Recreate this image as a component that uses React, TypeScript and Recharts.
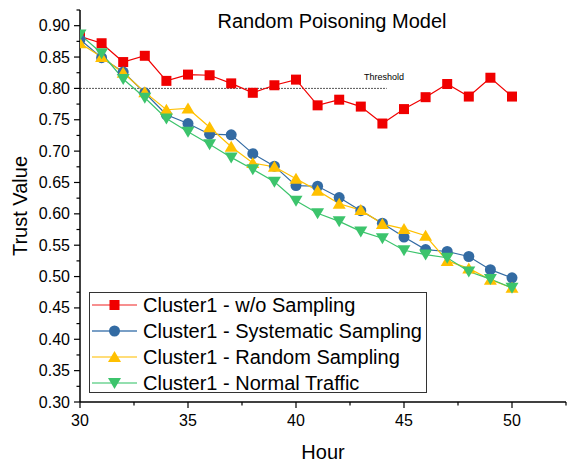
import { Label, Legend, Line, LineChart, ReferenceLine, XAxis, YAxis } from "recharts";

const FONT = "'Liberation Sans', Arial, sans-serif";

const hours = [30, 31, 32, 33, 34, 35, 36, 37, 38, 39, 40, 41, 42, 43, 44, 45, 46, 47, 48, 49, 50];

const noSampling = [
  0.883, 0.872, 0.842, 0.852, 0.812, 0.822, 0.821, 0.808, 0.793, 0.805, 0.814,
  0.773, 0.782, 0.771, 0.744, 0.767, 0.786, 0.807, 0.787, 0.817, 0.787,
];
const systematic = [
  0.878, 0.849, 0.826, 0.793, 0.758, 0.744, 0.727, 0.726, 0.696, 0.676, 0.645,
  0.644, 0.626, 0.605, 0.585, 0.563, 0.543, 0.54, 0.532, 0.511, 0.498,
];
const randomSampling = [
  0.872, 0.85, 0.825, 0.794, 0.766, 0.768, 0.738, 0.707, 0.681, 0.675, 0.656,
  0.637, 0.616, 0.606, 0.584, 0.576, 0.565, 0.525, 0.513, 0.495, 0.482,
];
const normalTraffic = [
  0.886, 0.856, 0.815, 0.785, 0.752, 0.731, 0.711, 0.69, 0.671, 0.651, 0.621,
  0.601, 0.588, 0.572, 0.561, 0.542, 0.535, 0.53, 0.508, 0.496, 0.482,
];

const xTicks = [30, 32.5, 35, 37.5, 40, 42.5, 45, 47.5, 50, 52.5];
const yTicks = [
  0.3, 0.325, 0.35, 0.375, 0.4, 0.425, 0.45, 0.475, 0.5, 0.525, 0.55, 0.575,
  0.6, 0.625, 0.65, 0.675, 0.7, 0.725, 0.75, 0.775, 0.8, 0.825, 0.85, 0.875,
  0.9, 0.925,
];

const threshold = 0.8;
const thresholdEnd = 44.2;

type Shape = "square" | "circle" | "up" | "down";

const series: { key: string; name: string; color: string; legendLine: string; shape: Shape }[] = [
  { key: "noSampling", name: "Cluster1 - w/o Sampling", color: "#f00000", legendLine: "#f46a6a", shape: "square" },
  { key: "systematic", name: "Cluster1 - Systematic Sampling", color: "#336ba3", legendLine: "#4d7fb3", shape: "circle" },
  { key: "randomSampling", name: "Cluster1 - Random Sampling", color: "#ffc000", legendLine: "#ffd24d", shape: "up" },
  { key: "normalTraffic", name: "Cluster1 - Normal Traffic", color: "#3cc46c", legendLine: "#6fd595", shape: "down" },
];

const rows = hours.map((hour, i) => ({
  hour,
  noSampling: noSampling[i],
  systematic: systematic[i],
  randomSampling: randomSampling[i],
  normalTraffic: normalTraffic[i],
}));

function Marker({ cx, cy, shape, color }: { cx: number; cy: number; shape: Shape; color: string }) {
  if (cx == null || cy == null) return null;
  if (shape === "square") return <rect x={cx - 5} y={cy - 5} width={10} height={10} fill={color} />;
  if (shape === "circle") return <circle cx={cx} cy={cy} r={5.5} fill={color} />;
  if (shape === "up")
    return <polygon points={`${cx},${cy - 6} ${cx - 6.5},${cy + 5} ${cx + 6.5},${cy + 5}`} fill={color} />;
  return <polygon points={`${cx},${cy + 6} ${cx - 6.5},${cy - 5} ${cx + 6.5},${cy - 5}`} fill={color} />;
}

const isMajor = (v: number, step: number) => Math.abs(v / step - Math.round(v / step)) < 1e-6;

function YTick({ x, y, payload }: any) {
  const major = isMajor(payload.value, 0.05);
  return (
    <g>
      <line x1={x} x2={x - (major ? 6 : 3.5)} y1={y} y2={y} stroke="#000" strokeWidth={1.2} />
      {major && (
        <text x={x - 10} y={y + 5.5} textAnchor="end" fontSize={16} fontFamily={FONT} fill="#000">
          {payload.value.toFixed(2)}
        </text>
      )}
    </g>
  );
}

function XTick({ x, y, payload }: any) {
  const major = isMajor(payload.value, 5);
  return (
    <g>
      <line x1={x} x2={x} y1={y} y2={y + (major ? 6 : 3.5)} stroke="#000" strokeWidth={1.2} />
      {major && (
        <text x={x} y={y + 24} textAnchor="middle" fontSize={16} fontFamily={FONT} fill="#000">
          {payload.value}
        </text>
      )}
    </g>
  );
}

function LegendBox() {
  return (
    <div
      style={{
        width: 336,
        height: 99,
        border: "1px solid #333",
        background: "#fff",
        fontFamily: FONT,
        fontSize: 20,
        color: "#000",
      }}
    >
      {series.map((s) => (
        <div key={s.key} style={{ display: "flex", alignItems: "center", height: 26, marginTop: s.key === "noSampling" ? -1 : 0 }}>
          <svg width={53} height={26} style={{ flex: "none" }}>
            <line x1={2} x2={47} y1={13} y2={13} stroke={s.legendLine} strokeWidth={1.5} />
            <Marker cx={24.5} cy={13} shape={s.shape} color={s.color} />
          </svg>
          <span style={{ whiteSpace: "nowrap", lineHeight: "26px" }}>{s.name}</span>
        </div>
      ))}
    </div>
  );
}

export default function App() {
  return (
    <div style={{ position: "absolute", left: 0, top: 0, width: 567, height: 464, background: "#fff" }}>
      <LineChart width={567} height={464} data={rows} margin={{ top: 10, right: 1, bottom: 0, left: 0 }}>
        <XAxis
          dataKey="hour"
          type="number"
          domain={[30, 52.5]}
          ticks={xTicks}
          interval={0}
          height={62}
          tickLine={false}
          tickSize={0}
          tickMargin={0}
          tick={<XTick />}
          axisLine={{ stroke: "#000", strokeWidth: 1.5 }}
          allowDataOverflow
        >
          <Label value="Hour" position="insideBottom" offset={5} fontSize={20} fontFamily={FONT} fill="#000" />
        </XAxis>
        <YAxis
          type="number"
          domain={[0.3, 0.925]}
          ticks={yTicks}
          interval={0}
          width={80}
          tickLine={false}
          tickSize={0}
          tickMargin={0}
          tick={<YTick />}
          axisLine={{ stroke: "#000", strokeWidth: 1.5 }}
          allowDataOverflow
        >
          <Label
            value="Trust Value"
            angle={-90}
            position="insideLeft"
            offset={20}
            fontSize={20}
            fontFamily={FONT}
            fill="#000"
            style={{ textAnchor: "middle" }}
          />
        </YAxis>
        <ReferenceLine
          segment={[
            { x: 30, y: threshold },
            { x: thresholdEnd, y: threshold },
          ]}
          stroke="#555"
          strokeDasharray="2 1"
          strokeWidth={1}
        />
        {series.map((s) => (
          <Line
            key={s.key}
            dataKey={s.key}
            name={s.name}
            stroke={s.color}
            strokeWidth={1.2}
            isAnimationActive={false}
            activeDot={false}
            dot={(p: any) => <Marker key={`${s.key}-${p.index}`} cx={p.cx} cy={p.cy} shape={s.shape} color={s.color} />}
          />
        ))}
        <Legend
          layout="horizontal"
          verticalAlign="middle"
          align="center"
          content={() => <LegendBox />}
          wrapperStyle={{ left: 89, top: 292, width: 338, height: 101 }}
        />
      </LineChart>
      <div
        style={{
          position: "absolute",
          left: 182,
          top: 11,
          width: 300,
          textAlign: "center",
          fontFamily: FONT,
          fontSize: 20,
          lineHeight: "20px",
          color: "#000",
          whiteSpace: "nowrap",
        }}
      >
        Random Poisoning Model
      </div>
      <div
        style={{
          position: "absolute",
          left: 364,
          top: 73,
          fontFamily: FONT,
          fontSize: 9,
          lineHeight: "9px",
          color: "#000",
          whiteSpace: "nowrap",
        }}
      >
        Threshold
      </div>
    </div>
  );
}
